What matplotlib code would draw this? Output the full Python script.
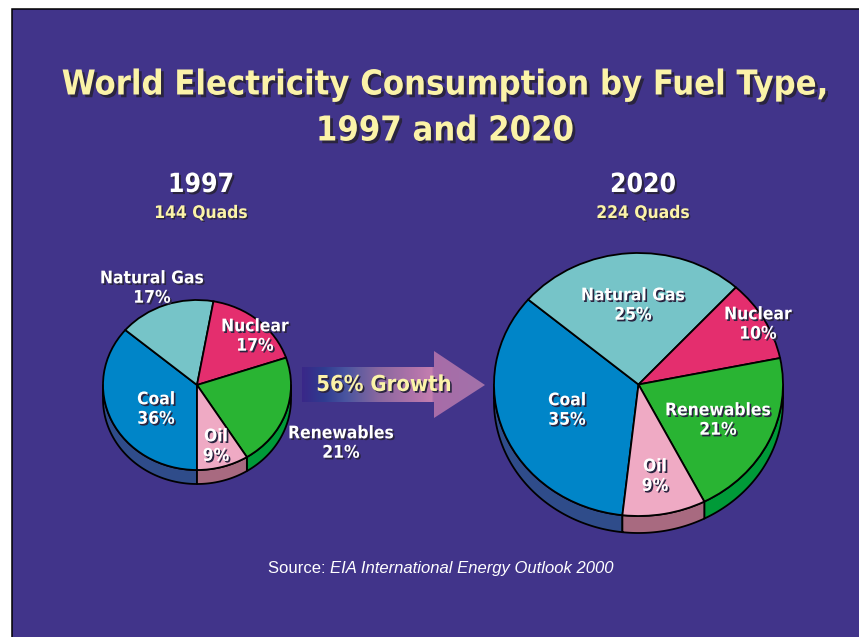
import numpy as np
import matplotlib
matplotlib.use("Agg")
import matplotlib.pyplot as plt
import matplotlib.patheffects as pe
from matplotlib.colors import LinearSegmentedColormap
from matplotlib.patches import Polygon, Rectangle

title_lines = ["World Electricity Consumption by Fuel Type,", "1997 and 2020"]
fuels = ["Coal", "Natural Gas", "Nuclear", "Renewables", "Oil"]
# printed percentages
shares_1997 = [36, 17, 17, 21, 9]
shares_2020 = [35, 25, 10, 21, 9]
# slice sizes as drawn in the picture (not quite the printed numbers)
slices_1997 = [36.2, 16.6, 17.0, 21.3, 8.9]
slices_2020 = [34.4, 25.6, 10.0, 20.7, 9.3]
quads_1997 = "144 Quads"
quads_2020 = "224 Quads"
growth_label = "56% Growth"

top_colors = ["#0085c8", "#76c4c8", "#e42e6e", "#29b433", "#efaac4"]
side_colors = ["#2f4c8a", "#4f8a8e", "#a02050", "#009a38", "#a86a80"]
BG = "#41348a"
CREAM = "#fbf3a8"
W, H = 859, 637

fig = plt.figure(figsize=(W / 100, H / 100), dpi=100, facecolor="white")
bg = fig.add_axes([0, 0, 1, 1], zorder=0)
bg.set_xlim(0, W)
bg.set_ylim(H, 0)
bg.axis("off")
bg.add_patch(Rectangle((11.5, 8.5), W, H, fc=BG, ec="black", lw=1.1))


def draw_pie(values, cx, cy, rx, ry, depth, start):
    # own axes squashed to the ellipse, so the pie comes out tilted
    m = 0.03
    d = depth / ry
    left = (cx - rx * (1 + m)) / W
    right = (cx + rx * (1 + m)) / W
    top = cy - ry * (1 + m)
    bottom = cy + ry * (1 + m) + depth
    ax = fig.add_axes([left, 1 - bottom / H, right - left, (bottom - top) / H], zorder=1)
    ax.patch.set_alpha(0)

    # front wall of each slice
    frac = np.array(values) / sum(values)
    a0 = start
    for f, col in zip(frac, side_colors):
        a1 = a0 - f * 360
        for shift in (-360, 0, 360):
            lo = max(a1 + shift, 180)
            hi = min(a0 + shift, 360)
            if hi > lo:
                t = np.radians(np.linspace(lo, hi, 80))
                x = np.cos(t)
                y = np.sin(t)
                pts = np.r_[np.c_[x, y], np.c_[x[::-1], y[::-1] - d]]
                ax.add_patch(Polygon(pts, fc=col, ec="black", lw=1.3, joinstyle="round"))
        a0 = a1

    ax.pie(values, colors=top_colors, startangle=start, counterclock=False, radius=1,
           wedgeprops={"edgecolor": "black", "linewidth": 1.3})
    ax.set_aspect("auto")
    ax.set_xlim(-1 - m, 1 + m)
    ax.set_ylim(-1 - m - d, 1 + m)
    ax.axis("off")


draw_pie(slices_1997, 197, 385, 94, 85, 14, 270)
draw_pie(slices_2020, 638.5, 384.5, 144.5, 131.5, 17, 263.6)

# arrow with a gradient fill
arrow_pts = [(302, 367), (434, 367), (434, 351), (485, 385), (434, 418), (434, 402), (302, 402)]
arrow_cmap = LinearSegmentedColormap.from_list("growth", [
    (0.0, "#3a2788"), (0.12, "#2f3c90"), (0.24, "#4a55a0"), (0.42, "#8a689f"),
    (0.62, "#b274aa"), (0.71, "#c47fb0"), (0.72, "#a86ca8"), (1.0, "#a272aa")])
grad = bg.imshow(np.linspace(0, 1, 256).reshape(1, -1), cmap=arrow_cmap, aspect="auto",
                 extent=(302, 485, 418, 351), zorder=2)
grad.set_clip_path(Polygon(arrow_pts, transform=bg.transData))
bg.set_xlim(0, W)
bg.set_ylim(H, 0)

over = fig.add_axes([0, 0, 1, 1], zorder=2)
over.set_xlim(0, W)
over.set_ylim(H, 0)
over.axis("off")


def label(x, y, s, size, color="white", off=1.2):
    over.text(x, y, s, fontsize=size, color=color, family="DejaVu Sans", weight="bold",
              stretch="condensed", ha="center", va="center", linespacing=1.1,
              path_effects=[pe.withSimplePatchShadow(offset=(off, -off), shadow_rgbFace="#2a2440", alpha=1)])


label(445, 85, title_lines[0], 24.7, CREAM, 2)
label(445, 131, title_lines[1], 24.7, CREAM, 2)
label(201, 185, "1997", 19, "white", 1.5)
label(201, 213, quads_1997, 12.5, CREAM, 1)
label(643, 185, "2020", 19, "white", 1.5)
label(643, 213, quads_2020, 12.5, CREAM, 1)
label(384, 385, growth_label, 15.8, CREAM, 1.2)

# label centres, in the order of fuels
xy_1997 = [(156, 409), (152, 288), (255, 336), (341, 443), (216, 446)]
xy_2020 = [(567, 410), (633, 305), (758, 324), (718, 420), (655, 476)]
for name, v, xy in zip(fuels, shares_1997, xy_1997):
    label(xy[0], xy[1], f"{name}\n{v}%", 12.5)
for name, v, xy in zip(fuels, shares_2020, xy_2020):
    label(xy[0], xy[1], f"{name}\n{v}%", 12.5)

over.text(330, 573, "Source: ", fontsize=12, color="white", family="Liberation Sans", ha="right", va="baseline")
over.text(330, 573, "EIA International Energy Outlook 2000", fontsize=12, color="white",
          family="Liberation Sans", style="italic", ha="left", va="baseline")

fig.savefig("out.png", dpi=100)
